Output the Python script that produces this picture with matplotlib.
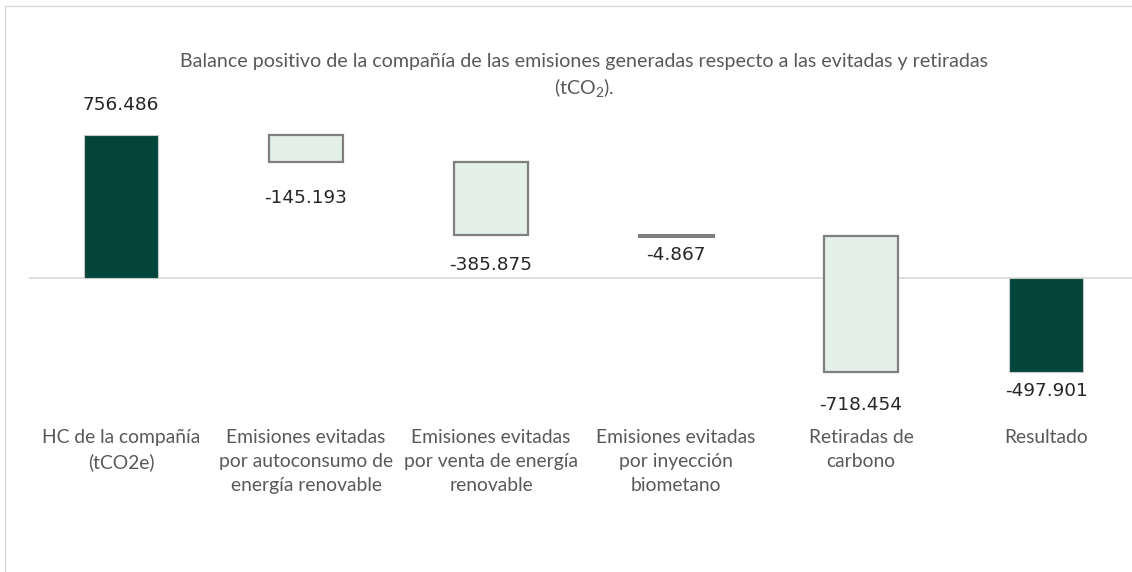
import matplotlib
matplotlib.use("Agg")
import matplotlib.pyplot as plt
from matplotlib.patches import Rectangle
from matplotlib.transforms import blended_transform_factory

# Data (tCO2)
categorias = ['HC de la compañía\n(tCO2e)',
              'Emisiones evitadas\npor autoconsumo de\nenergía renovable',
              'Emisiones evitadas\npor venta de energía\nrenovable',
              'Emisiones evitadas\npor inyección\nbiometano',
              'Retiradas de\ncarbono',
              'Resultado']
valores = [756.486, -145.193, -385.875, -4.867, -718.454, -497.901]
etiquetas = ['756.486', '-145.193', '-385.875', '-4.867', '-718.454', '-497.901']
es_total = [True, False, False, False, False, True]

# styles
oscuro = '#03453A'
claro = '#E2F0E7'
borde_claro = '#7F7F7F'
gris_texto = '#595959'

plt.rcParams['font.family'] = ['Lato', 'DejaVu Sans']
plt.rcParams['mathtext.fontset'] = 'custom'
plt.rcParams['mathtext.rm'] = 'Lato'
plt.rcParams['mathtext.it'] = 'Lato:italic'

W, H = 1132, 572
fig = plt.figure(figsize=(W / 100, H / 100), dpi=100)

# pixel geometry of the plot area
px_per_unit = 143 / 756.486
zero_px = 278
top_px, bot_px = 60, 430
x0_px, step_px = 121, 185
ax = fig.add_axes([(x0_px - step_px / 2) / W, 1 - bot_px / H,
                   (W - (x0_px - step_px / 2)) / W, (bot_px - top_px) / H])
ax.set_ylim(-(bot_px - zero_px) / px_per_unit, (zero_px - top_px) / px_per_unit)
ax.set_xlim(-0.5, -0.5 + (W - (x0_px - step_px / 2)) / step_px)
ax.axis('off')

# waterfall bottoms
fondos = []
acum = 0.0
for v, tot in zip(valores, es_total):
    if tot:
        fondos.append(0.0)
        acum = v
    else:
        fondos.append(acum)
        acum += v

ax.axhline(0, color='#D9D9D9', lw=1.2, zorder=1)

# label offsets in points (labels were moved by hand in the original)
offs = [15, -19, -15, -7, -17, -7]
for i, (v, b, tot) in enumerate(zip(valores, fondos, es_total)):
    if tot:
        ax.bar(i, v, bottom=b, width=0.395, color=oscuro, edgecolor='#C8C8C8', lw=0.8, zorder=3)
    else:
        ax.bar(i, v, bottom=b, width=0.405, color=claro, edgecolor=borde_claro,
               lw=1.6 if abs(v) > 10 else 2.2, zorder=3)
    y_tip = max(b, b + v) if v > 0 else min(b, b + v)
    ax.annotate(etiquetas[i], xy=(i, y_tip), xytext=(0, offs[i]), textcoords='offset points',
                ha='center', va='bottom' if v > 0 else 'top', fontsize=13.3,
                color='#262626', family=['DejaVu Sans'])

trans = blended_transform_factory(ax.transData, fig.transFigure)
for i, c in enumerate(categorias):
    ax.text(i, 1 - 429 / H, c, transform=trans, ha='center', va='top',
            fontsize=13.9, color=gris_texto, linespacing=1.5)

fig.text(584 / W, 1 - 53 / H,
         'Balance positivo de la compañía de las emisiones generadas respecto a las evitadas y retiradas\n(tCO$_2$).',
         ha='center', va='top', fontsize=14.1, color=gris_texto, linespacing=1.35)

# outer chart frame
fig.patches.append(Rectangle((5 / W, -0.01), 1.0, 1 - 6 / H + 0.01, transform=fig.transFigure,
                             fill=False, edgecolor='#D9D9D9', lw=1.0))

fig.savefig('out.png', dpi=100, facecolor='white')
